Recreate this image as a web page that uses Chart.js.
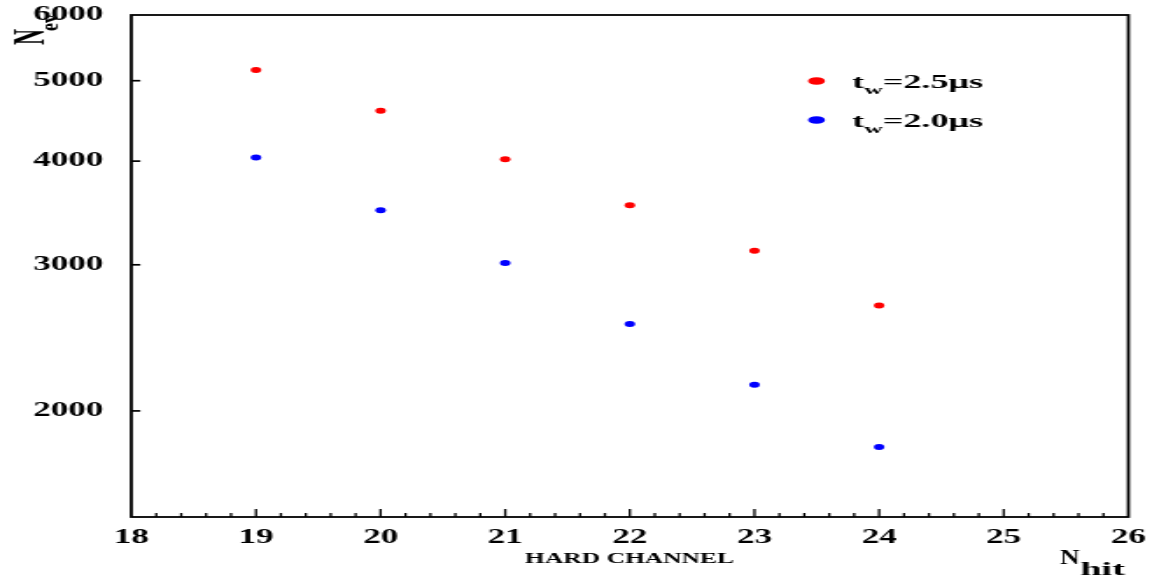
<!DOCTYPE html>
<html>
<head>
<meta charset="utf-8">
<script src="https://cdn.jsdelivr.net/npm/chart.js@4"></script>
<style>
  html, body { margin: 0; padding: 0; background: #fff; overflow: hidden; }
  #wrap { width: 658px; height: 578px; transform-origin: 0 0; }
  canvas { display: block; }
</style>
</head>
<body>
<div id="wrap"><canvas id="c" width="658" height="578"></canvas></div>
<script>
// data
const nHit = [19, 20, 21, 22, 23, 24];
const nEv25 = [5150, 4600, 4020, 3540, 3120, 2680]; // t_w = 2.5 us
const nEv20 = [4040, 3490, 3015, 2545, 2150, 1810]; // t_w = 2.0 us
const seriesLabels = [['t', 'w', '=2.5μs'], ['t', 'w', '=2.0μs']];
const seriesColors = ['#ff0000', '#0000ff'];
const xMin = 18, xMax = 26, xMinorStep = 0.2;
const yTicks = [2000, 3000, 4000, 5000, 6000];
const yMin = 1490, yMax = 6000;

// the original plot is stretched sideways, so draw narrow and stretch the canvas
const SX = 1152 / 658;
document.getElementById('wrap').style.transform = 'scaleX(' + SX + ')';

const FONT = 'Liberation Serif, Times New Roman, serif';

function drawParts(ctx, parts, x, y, w) {
  let total = 0;
  parts.forEach(p => { ctx.font = p.font; p.w = ctx.measureText(p.text).width; total += p.w; });
  const k = w / total;
  ctx.save();
  ctx.translate(x, y);
  ctx.scale(k, 1);
  let cx = 0;
  parts.forEach(p => { ctx.font = p.font; ctx.fillText(p.text, cx, p.dy || 0); cx += p.w; });
  ctx.restore();
}

const decor = {
  id: 'decor',
  afterDraw(chart) {
    const ctx = chart.ctx, a = chart.chartArea;
    const xs = chart.scales.x, ys = chart.scales.y;
    ctx.save();
    ctx.strokeStyle = '#000';
    ctx.fillStyle = '#000';
    ctx.lineWidth = 1.8;
    ctx.strokeRect(a.left, a.top, a.right - a.left, a.bottom - a.top);

    // inward ticks
    ctx.lineWidth = 1.3;
    xs.ticks.forEach(t => {
      const px = xs.getPixelForValue(t.value);
      if (px <= a.left + 1 || px >= a.right - 1) return;
      const major = Math.abs(t.value - Math.round(t.value)) < 1e-6;
      ctx.beginPath();
      ctx.moveTo(px, a.bottom);
      ctx.lineTo(px, a.bottom - (major ? 8 : 4));
      ctx.stroke();
    });
    ctx.lineWidth = 1.7;
    ys.ticks.forEach(t => {
      const py = ys.getPixelForValue(t.value);
      if (py <= a.top + 1) return;
      ctx.beginPath();
      ctx.moveTo(a.left, py);
      ctx.lineTo(a.left + 9 / SX, py);
      ctx.stroke();
    });

    ctx.textAlign = 'left';
    ctx.textBaseline = 'alphabetic';

    // legend
    const rowBase = [87.5, 126.5];
    chart.data.datasets.forEach((ds, i) => {
      ctx.fillStyle = ds.backgroundColor;
      ctx.beginPath();
      ctx.ellipse(816.5 / SX, rowBase[i] - 6.5, 8.5 / SX, 3.8, 0, 0, Math.PI * 2);
      ctx.fill();
      ctx.fillStyle = '#000';
      const lb = seriesLabels[i];
      drawParts(ctx, [
        { text: lb[0], font: 'bold 18px ' + FONT },
        { text: lb[1], font: 'bold 13px ' + FONT, dy: 6 },
        { text: lb[2], font: 'bold 18px ' + FONT }
      ], 852 / SX, rowBase[i], 131 / SX);
    });

    // axis titles
    drawParts(ctx, [{ text: 'HARD CHANNEL', font: 'bold 15px ' + FONT }], 525 / SX, 563, 209 / SX);
    drawParts(ctx, [{ text: 'N', font: 'bold 22px ' + FONT }], 1060 / SX, 563.5, 19.5 / SX);
    drawParts(ctx, [{ text: 'hit', font: 'bold 18px ' + FONT }], 1080 / SX, 575, 45 / SX);

    // rotated y title N_ev
    ctx.save();
    ctx.translate(43 / SX, 45);
    ctx.rotate(-Math.PI / 2);
    drawParts(ctx, [{ text: 'N', font: 'bold 26px ' + FONT }], 0, 0, 16);
    drawParts(ctx, [{ text: 'ev', font: 'bold 14px ' + FONT }], 14, 8.6, 17);
    ctx.restore();

    ctx.restore();
  }
};

const tickFont = { family: FONT, size: 20, weight: 'bold' };

new Chart(document.getElementById('c').getContext('2d'), {
  type: 'scatter',
  data: {
    datasets: [
      {
        label: 't_w=2.5μs',
        data: nHit.map((x, i) => ({ x: x, y: nEv25[i] })),
        backgroundColor: seriesColors[0],
        borderWidth: 0,
        pointRadius: 3,
      },
      {
        label: 't_w=2.0μs',
        data: nHit.map((x, i) => ({ x: x, y: nEv20[i] })),
        backgroundColor: seriesColors[1],
        borderWidth: 0,
        pointRadius: 3,
      },
    ],
  },
  options: {
    responsive: false,
    animation: false,
    devicePixelRatio: 1,
    layout: { padding: { left: 0, right: 13.5, top: 15, bottom: 0 } },
    plugins: { legend: { display: false }, tooltip: { enabled: false } },
    scales: {
      x: {
        type: 'linear',
        min: xMin,
        max: xMax,
        afterFit(s) { s.height = 61; s.paddingLeft = 0; s.paddingRight = 0; },
        afterBuildTicks(s) {
          const t = [];
          const n = Math.round((xMax - xMin) / xMinorStep);
          for (let i = 0; i <= n; i++) t.push({ value: xMin + i * xMinorStep });
          s.ticks = t;
        },
        ticks: {
          autoSkip: false,
          maxRotation: 0,
          padding: 1,
          color: '#000',
          font: tickFont,
          callback: v => (Math.abs(v - Math.round(v)) < 1e-6 ? String(Math.round(v)) : ''),
        },
        grid: { display: false },
        border: { display: false },
      },
      y: {
        type: 'logarithmic',
        min: yMin,
        max: yMax,
        afterFit(s) { s.width = 75; s.paddingTop = 0; s.paddingBottom = 0; },
        afterBuildTicks(s) { s.ticks = yTicks.map(v => ({ value: v })); },
        ticks: {
          padding: 8,
          color: '#000',
          font: tickFont,
          callback: v => String(v),
        },
        grid: { display: false },
        border: { display: false },
      },
    },
  },
  plugins: [decor],
});
</script>
</body>
</html>
